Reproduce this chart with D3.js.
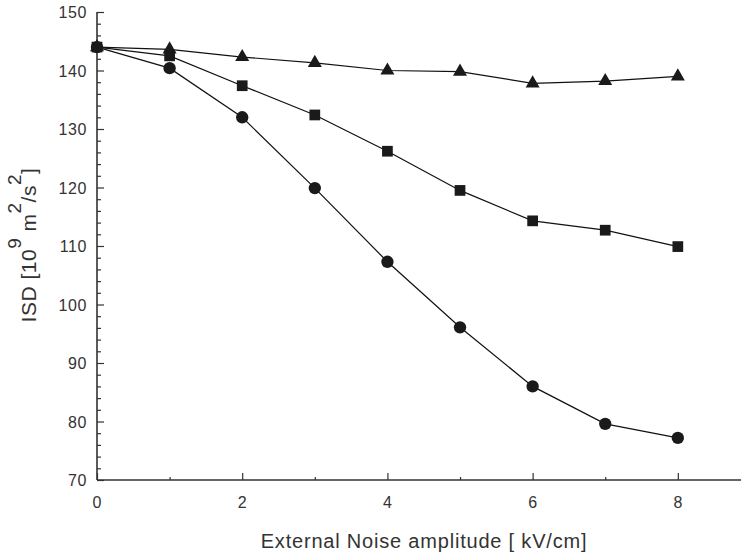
<!DOCTYPE html>
<html>
<head>
<meta charset="utf-8">
<script src="https://cdn.jsdelivr.net/npm/d3@7"></script>
<style>
  body { margin: 0; background: #fff; }
  text { font-family: "Liberation Sans", Arial, sans-serif; fill: #333; }
</style>
</head>
<body>
<svg id="chart" width="742" height="552"></svg>
<script>
// noise amplitude values (kV/cm)
var amplitudes = [0, 1, 2, 3, 4, 5, 6, 7, 8];

// ISD values, one array per curve
var triangleSeries = [144, 143.6, 142.3, 141.3, 140.0, 139.8, 137.8, 138.2, 139.0];
var squareSeries   = [144, 142.5, 137.4, 132.4, 126.2, 119.5, 114.3, 112.7, 109.9];
var circleSeries   = [144, 140.4, 132.0, 119.9, 107.3, 96.1, 86.0, 79.6, 77.2];

var xMajorTicks = [0, 2, 4, 6, 8];
var xMinorTicks = [1, 3, 5, 7];
var yMajorTicks = [70, 80, 90, 100, 110, 120, 130, 140, 150];

var svg = d3.select('#chart');

var x = d3.scaleLinear().domain([0, 8.87]).range([97, 741]);
var y = d3.scaleLinear().domain([70, 150]).range([480, 12]);

var axisColor = '#333';

// y axis, ticks point inward
var yMinor = d3.range(70, 150.1, 2).filter(function(v) { return v % 10 !== 0; });

var yAxis = svg.append('g').attr('transform', 'translate(97,0)');
yAxis.call(d3.axisRight(y).tickValues(yMinor).tickSize(4).tickFormat(''));
yAxis.append('g').call(d3.axisRight(y).tickValues(yMajorTicks).tickSize(7).tickFormat(''));
yAxis.selectAll('.domain').remove();
yAxis.selectAll('line').attr('stroke', axisColor).attr('stroke-width', 1.2);

svg.append('g').selectAll('text')
  .data(yMajorTicks)
  .enter().append('text')
  .attr('x', 87)
  .attr('y', function(d) { return y(d) + 6; })
  .attr('text-anchor', 'end')
  .style('font-size', '16px')
  .style('letter-spacing', '0.6px')
  .text(function(d) { return d; });

// x axis, ticks point up
var xAxis = svg.append('g').attr('transform', 'translate(0,480)');
xAxis.call(d3.axisTop(x).tickValues(xMinorTicks).tickSize(3).tickFormat(''));
xAxis.append('g').call(d3.axisTop(x).tickValues(xMajorTicks).tickSize(7).tickFormat(''));
xAxis.selectAll('.domain').remove();
xAxis.selectAll('line').attr('stroke', axisColor).attr('stroke-width', 1.2);

svg.append('g').selectAll('text')
  .data(xMajorTicks)
  .enter().append('text')
  .attr('x', function(d) { return x(d); })
  .attr('y', 508)
  .attr('text-anchor', 'middle')
  .style('font-size', '16px')
  .text(function(d) { return d; });

// axis lines
svg.append('line')
  .attr('x1', 97).attr('x2', 97).attr('y1', y(150)).attr('y2', 480)
  .attr('stroke', axisColor).attr('stroke-width', 1.6);
svg.append('line')
  .attr('x1', 97).attr('x2', 741).attr('y1', 480).attr('y2', 480)
  .attr('stroke', axisColor).attr('stroke-width', 1.6);

// axis titles
svg.append('text')
  .attr('x', 424).attr('y', 548)
  .attr('text-anchor', 'middle')
  .style('font-size', '20px')
  .style('letter-spacing', '0.8px')
  .text('External Noise amplitude [ kV/cm]');

var yTitle = svg.append('text')
  .attr('transform', 'translate(36,245) rotate(-90)')
  .attr('text-anchor', 'middle')
  .style('font-size', '21px')
  .style('letter-spacing', '0.5px');
yTitle.append('tspan').text('ISD [10');
yTitle.append('tspan').attr('dy', -15).style('font-size', '19px').text('9');
yTitle.append('tspan').attr('dy', 15).text(' m');
yTitle.append('tspan').attr('dy', -15).style('font-size', '19px').text('2');
yTitle.append('tspan').attr('dy', 15).text('/s');
yTitle.append('tspan').attr('dy', -15).style('font-size', '19px').text('2');
yTitle.append('tspan').attr('dy', 15).text(']');

// curves
var series = [
  { values: circleSeries, symbol: d3.symbolCircle, size: 120 },
  { values: squareSeries, symbol: d3.symbolSquare, size: 115 },
  { values: triangleSeries, symbol: d3.symbolTriangle, size: 85 }
];

var line = d3.line()
  .x(function(d, i) { return x(amplitudes[i]); })
  .y(function(d) { return y(d); });

series.forEach(function(s) {
  svg.append('path')
    .attr('d', line(s.values))
    .attr('fill', 'none')
    .attr('stroke', '#111')
    .attr('stroke-width', 1.2);
});

series.forEach(function(s) {
  var sym = d3.symbol().type(s.symbol).size(s.size);
  svg.append('g').selectAll('path')
    .data(s.values)
    .enter().append('path')
    .attr('d', sym)
    .attr('transform', function(d, i) {
      return 'translate(' + x(amplitudes[i]) + ',' + y(d) + ')';
    })
    .attr('fill', '#1a1a1a');
});
</script>
</body>
</html>
